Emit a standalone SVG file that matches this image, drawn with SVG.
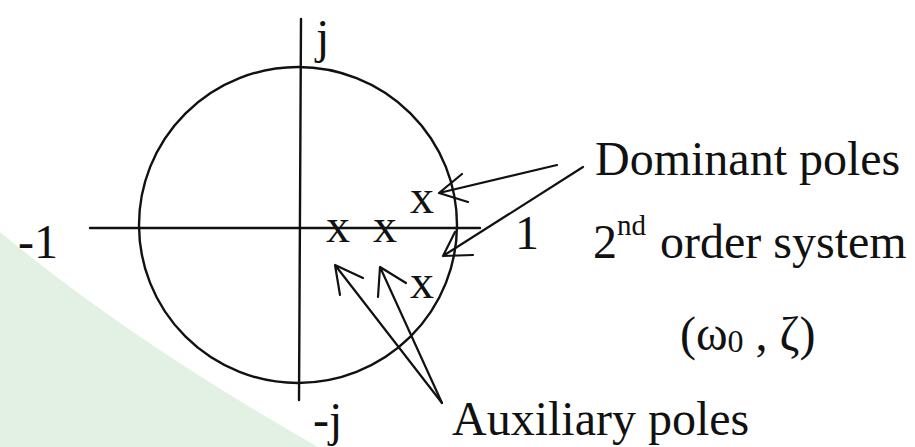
<svg xmlns="http://www.w3.org/2000/svg" width="915" height="447" viewBox="0 0 915 447">
<style>
.ln{fill:none;stroke:#111;stroke-width:2.4;stroke-linecap:round;stroke-linejoin:round}
.ar{fill:none;stroke:#111;stroke-width:2.2;stroke-linecap:round;stroke-linejoin:round}
.t{font-family:"Liberation Serif","Times New Roman",serif;font-size:48px;fill:#111}
</style>
<rect width="915" height="447" fill="#fff"/>
<path d="M0,232 Q130,340 318,447 L0,447 Z" fill="#e3f1e4"/>
<g id="plane">
<ellipse class="ln" cx="298" cy="225" rx="159" ry="158"/>
<line class="ln" x1="301" y1="19" x2="299" y2="400"/>
<line class="ln" x1="90" y1="228" x2="480" y2="228"/>
<text class="t" x="316" y="53">j</text>
<text class="t" x="313" y="436">-j</text>
<text class="t" x="18" y="258">-1</text>
<text class="t" x="515" y="249">1</text>
</g>
<g id="poles">
<text class="t" x="326" y="242">x</text>
<text class="t" x="373" y="242">x</text>
<text class="t" x="410" y="213">x</text>
<text class="t" x="410" y="298">x</text>
</g>
<g id="dominant-label">
<text class="t" x="595" y="175">Dominant poles</text>
<text class="t" x="593" y="258">2</text>
<text class="t" x="617" y="235" style="font-size:29px">nd</text>
<text class="t" x="660" y="258">order system</text>
<text class="t" x="680" y="350">(ω<tspan style="font-size:32px" dy="2">0</tspan><tspan dy="-2"> , ζ)</tspan></text>
</g>
<g id="auxiliary-label">
<text class="t" x="452" y="435">Auxiliary poles</text>
</g>
<g id="connectors">
<path class="ar" d="M557,165 L439,193 M462,174 L439,193 L468,202"/>
<path class="ar" d="M583,167 L443,256 M455,232 L443,256 L473,255"/>
<path class="ar" d="M442,403 L335,265 M340,295 L335,265 L363,278"/>
<path class="ar" d="M442,403 L380,267 M378,297 L380,267 L406,283"/>
</g>
</svg>
